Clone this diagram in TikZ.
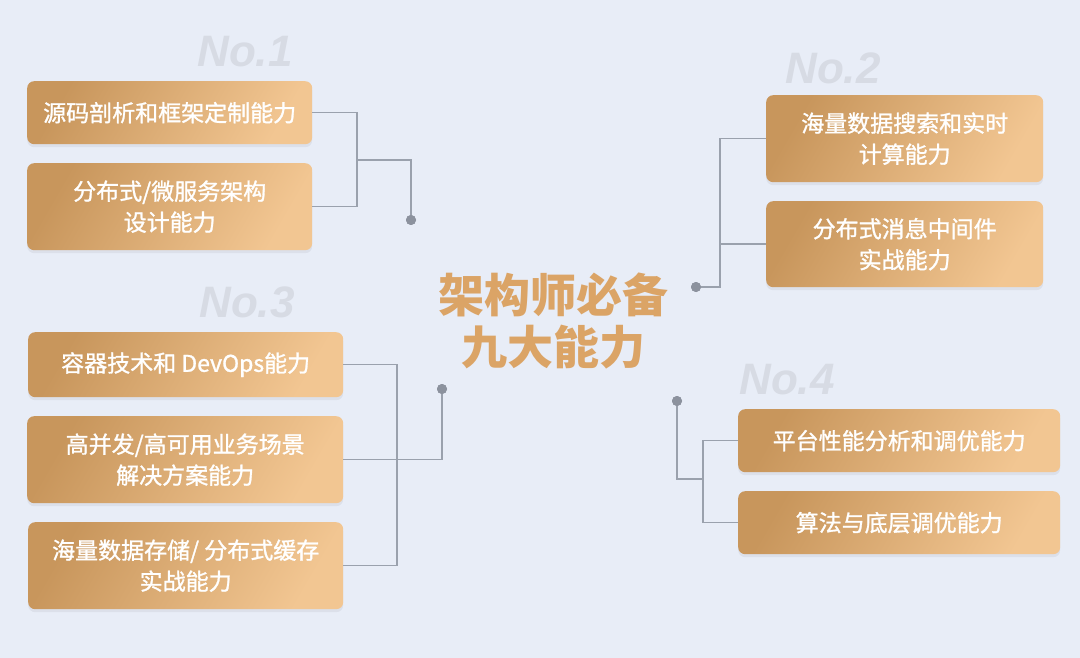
\documentclass[tikz,border=0pt]{standalone}
\usepackage{fontspec}
\setmainfont{Noto Sans CJK SC}
\newfontfamily\cjk{Noto Sans CJK SC}
\newfontfamily\cjkm[FakeBold=1.2]{Noto Sans CJK SC}
\newfontfamily\numfont{Liberation Sans}
\usetikzlibrary{shadows,calc}
\definecolor{bg}{HTML}{E8EDF7}
\definecolor{boxdark}{HTML}{C8965C}
\definecolor{boxlight}{HTML}{F2C692}
\definecolor{linec}{HTML}{9AA1AD}
\definecolor{dotc}{HTML}{8C929E}
\definecolor{numc}{HTML}{D7DBE4}
\definecolor{titlec}{HTML}{DBA466}
\tikzset{
  skill/.style={rounded corners=7pt, left color=boxdark, right color=boxlight, shading angle=60,
    text=white, align=center, inner sep=0pt, anchor=north west,
    font=\cjkm\fontsize{23}{31}\selectfont,
    drop shadow={shadow xshift=0pt, shadow yshift=-3pt, fill=black, opacity=0.05}},
  conn/.style={draw=linec, line width=1.5pt},
  dotn/.style={circle, fill=dotc, minimum size=10pt, inner sep=0pt},
  numlabel/.style={text=numc, font=\numfont\bfseries\itshape\fontsize{44}{44}\selectfont},
}
\begin{document}
\begin{tikzpicture}[x=1pt,y=-1pt]
\fill[bg] (0,0) rectangle (1080,658);
\useasboundingbox (0,0) rectangle (1080,658);

% number labels
\node[numlabel] (n1) at (245,52) {No.1};
\node[numlabel] (n2) at (833,68) {No.2};
\node[numlabel] (n3) at (247,302) {No.3};
\node[numlabel] (n4) at (787,380) {No.4};

% title
\node[text=titlec, font=\cjk\bfseries\fontsize{46}{52}\selectfont, align=center] (title) at (553,321) {架构师必备\\九大能力};

% boxes
\node[skill, minimum width=285pt, minimum height=63pt] (b1) at (27,81) {源码剖析和框架定制能力};
\node[skill, minimum width=285pt, minimum height=87pt] (b2) at (27,163) {分布式/微服务架构\\设计能力};
\node[skill, minimum width=277pt, minimum height=87pt] (b3) at (766,95) {海量数据搜索和实时\\计算能力};
\node[skill, minimum width=277pt, minimum height=86pt] (b4) at (766,201) {分布式消息中间件\\实战能力};
\node[skill, minimum width=315pt, minimum height=65pt] (b5) at (28,332) {容器技术和 DevOps能力};
\node[skill, minimum width=316pt, minimum height=87pt] (b6) at (27,416) {高并发/高可用业务场景\\解决方案能力};
\node[skill, minimum width=315pt, minimum height=87pt] (b7) at (28,522) {海量数据存储/ 分布式缓存\\实战能力};
\node[skill, minimum width=322pt, minimum height=63pt] (b8) at (738,409) {平台性能分析和调优能力};
\node[skill, minimum width=322pt, minimum height=63pt] (b9) at (738,491) {算法与底层调优能力};

% junctions and dots
\coordinate (j1) at (357,160);
\node[dotn] (d1) at (411,220) {};
\coordinate (j2) at (720,287);
\node[dotn] (d2) at (696,287) {};
\coordinate (j3) at (397,460);
\node[dotn] (d3) at (442,389) {};
\coordinate (j4) at (703,479);
\node[dotn] (d4) at (677,401) {};

% connectors
\draw[conn] (b1.east) -| (j1) |- (b2.east);
\draw[conn] (j1) -| (d1.center);
\draw[conn] (d2.center) -- (j2) |- (b3.west);
\draw[conn] (j2|-b4.west) -- (b4.west);
\draw[conn] (b5.east) -| (j3) |- (b7.east);
\draw[conn] (b6.east) -| (d3.center);
\draw[conn] (d4.center) |- (j4);
\draw[conn] (b8.west) -| (j4) |- (b9.west);
\node[dotn] at (d1) {};
\node[dotn] at (d2) {};
\node[dotn] at (d3) {};
\node[dotn] at (d4) {};
\end{tikzpicture}
\end{document}
